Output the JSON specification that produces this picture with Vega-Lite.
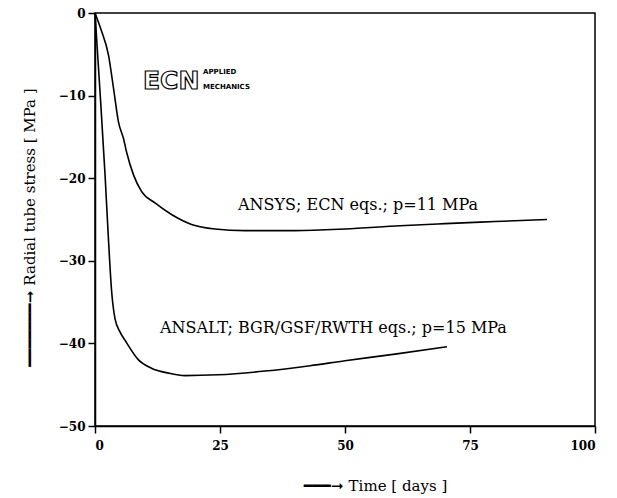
{
  "$schema": "https://vega.github.io/schema/vega-lite/v6.json",
  "width": 500,
  "height": 413,
  "autosize": "none",
  "padding": {"left": 95, "top": 13, "right": 22, "bottom": 72},
  "background": "white",
  "config": {
    "view": {"stroke": "black", "strokeWidth": 1.5},
    "axis": {
      "grid": false,
      "domainColor": "black",
      "domainWidth": 1.5,
      "tickColor": "black",
      "tickWidth": 1.5,
      "tickSize": 7,
      "labelColor": "black",
      "labelFont": "DejaVu Serif",
      "labelFontWeight": "bold",
      "labelFontSize": 12,
      "titleColor": "black",
      "titleFont": "DejaVu Serif",
      "titleFontWeight": "normal",
      "titleFontSize": 15
    }
  },
  "layer": [
    {
      "data": {
        "values": [
          {"series": "ANSYS", "t": 0, "s": 0},
          {"series": "ANSYS", "t": 1.2, "s": -2},
          {"series": "ANSYS", "t": 2.7, "s": -5.1},
          {"series": "ANSYS", "t": 3.7, "s": -9.1},
          {"series": "ANSYS", "t": 4.7, "s": -13.2},
          {"series": "ANSYS", "t": 5.7, "s": -15.2},
          {"series": "ANSYS", "t": 6.3, "s": -16.8},
          {"series": "ANSYS", "t": 7.7, "s": -19.6},
          {"series": "ANSYS", "t": 9.3, "s": -21.6},
          {"series": "ANSYS", "t": 12, "s": -23.0},
          {"series": "ANSYS", "t": 15.3, "s": -24.4},
          {"series": "ANSYS", "t": 19.3, "s": -25.6},
          {"series": "ANSYS", "t": 24, "s": -26.15},
          {"series": "ANSYS", "t": 30, "s": -26.35},
          {"series": "ANSYS", "t": 40, "s": -26.35},
          {"series": "ANSYS", "t": 50, "s": -26.15},
          {"series": "ANSYS", "t": 61, "s": -25.75},
          {"series": "ANSYS", "t": 70, "s": -25.5},
          {"series": "ANSYS", "t": 80, "s": -25.25},
          {"series": "ANSYS", "t": 90.4, "s": -25.0},
          {"series": "ANSALT", "t": 0, "s": 0},
          {"series": "ANSALT", "t": 1, "s": -9.5},
          {"series": "ANSALT", "t": 2, "s": -19.5},
          {"series": "ANSALT", "t": 2.7, "s": -27.5},
          {"series": "ANSALT", "t": 3.3, "s": -33.5},
          {"series": "ANSALT", "t": 4, "s": -37.0},
          {"series": "ANSALT", "t": 5, "s": -38.6},
          {"series": "ANSALT", "t": 6.3, "s": -39.9},
          {"series": "ANSALT", "t": 8.7, "s": -42},
          {"series": "ANSALT", "t": 11.3, "s": -43},
          {"series": "ANSALT", "t": 14.7, "s": -43.6},
          {"series": "ANSALT", "t": 18, "s": -43.9},
          {"series": "ANSALT", "t": 24.6, "s": -43.8},
          {"series": "ANSALT", "t": 34, "s": -43.35},
          {"series": "ANSALT", "t": 43, "s": -42.7},
          {"series": "ANSALT", "t": 50, "s": -42.1},
          {"series": "ANSALT", "t": 60, "s": -41.3},
          {"series": "ANSALT", "t": 70.4, "s": -40.4}
        ]
      },
      "mark": {"type": "line", "interpolate": "monotone", "color": "black", "strokeWidth": 1.6},
      "encoding": {
        "x": {
          "field": "t", "type": "quantitative",
          "scale": {"domain": [0, 100], "nice": false},
          "axis": {"values": [0, 25, 50, 75, 100], "title": "━━━➞  Time [ days ]", "labelPadding": 7, "titlePadding": 27, "titleX": 280, "titleAnchor": "middle"}
        },
        "y": {
          "field": "s", "type": "quantitative",
          "scale": {"domain": [-50, 0], "nice": false},
          "axis": {"values": [0, -10, -20, -30, -40, -50], "title": "━━━━━━━➞   Radial tube stress [ MPa ]", "labelPadding": 3, "titlePadding": 21, "titleY": 214, "titleAnchor": "middle"}
        },
        "detail": {"field": "series"}
      }
    },
    {
      "data": {
        "values": [
          {"label": "ANSYS; ECN eqs.; p=11 MPa", "t": 28.6, "s": -23.2},
          {"label": "ANSALT; BGR/GSF/RWTH eqs.; p=15 MPa", "t": 13, "s": -38.1}
        ]
      },
      "mark": {"type": "text", "align": "left", "baseline": "middle", "font": "DejaVu Serif", "fontSize": 16, "color": "black"},
      "encoding": {
        "x": {"field": "t", "type": "quantitative"},
        "y": {"field": "s", "type": "quantitative"},
        "text": {"field": "label"}
      }
    },
    {
      "data": {"values": [{"label": "ECN", "t": 9.6, "s": -8.2}]},
      "mark": {"type": "text", "align": "left", "baseline": "middle", "font": "DejaVu Sans", "fontWeight": "bold", "fontSize": 25, "fill": "white", "stroke": "black", "strokeWidth": 1.2},
      "encoding": {
        "x": {"field": "t", "type": "quantitative"},
        "y": {"field": "s", "type": "quantitative"},
        "text": {"field": "label"}
      }
    },
    {
      "data": {
        "values": [
          {"label": "APPLIED", "t": 21.6, "s": -7.2},
          {"label": "MECHANICS", "t": 21.6, "s": -9.0}
        ]
      },
      "mark": {"type": "text", "align": "left", "baseline": "middle", "font": "DejaVu Sans", "fontWeight": "bold", "fontSize": 7, "color": "black"},
      "encoding": {
        "x": {"field": "t", "type": "quantitative"},
        "y": {"field": "s", "type": "quantitative"},
        "text": {"field": "label"}
      }
    }
  ]
}
